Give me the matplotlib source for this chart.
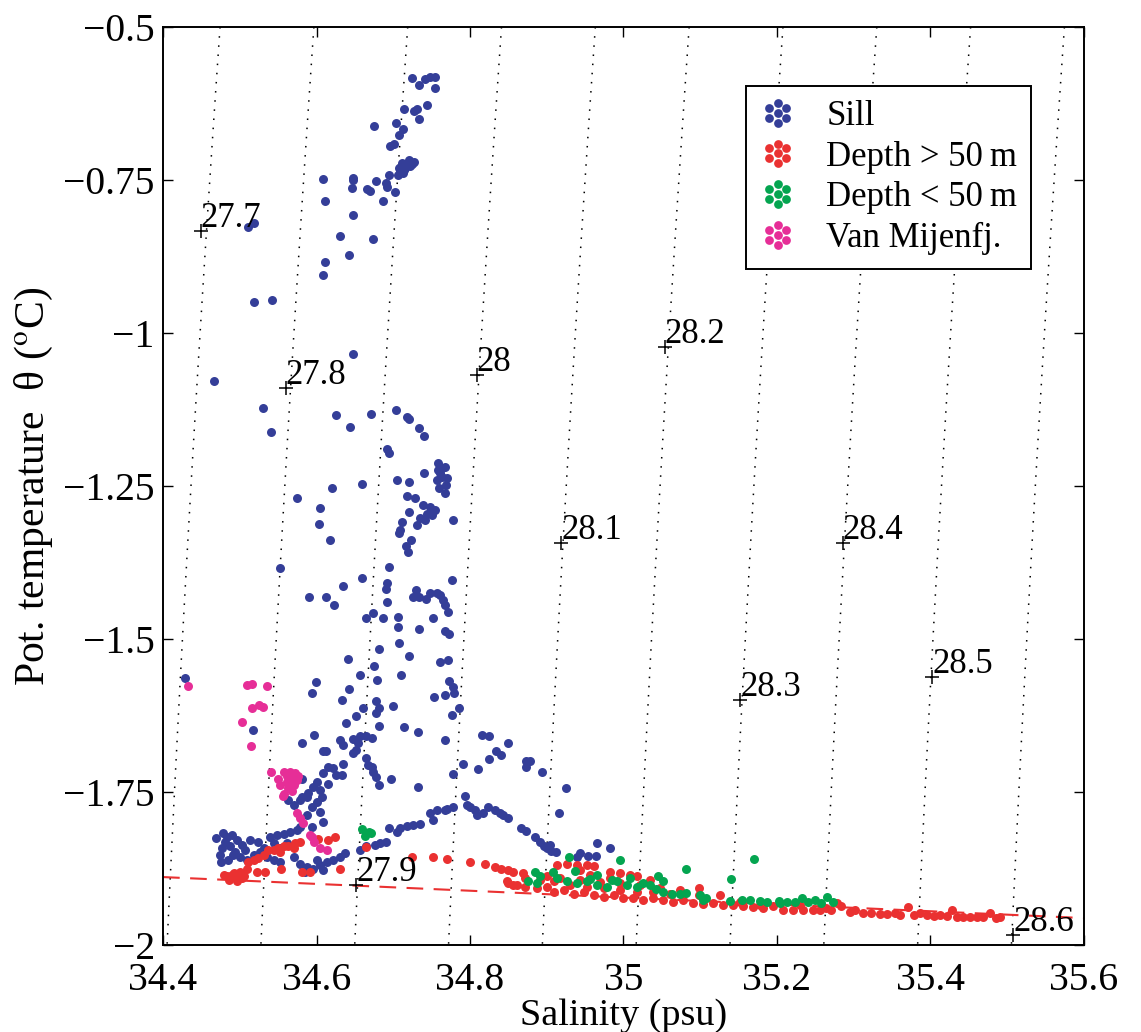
import numpy as np
import matplotlib
matplotlib.use("Agg")
import matplotlib.pyplot as plt
from matplotlib.lines import Line2D
from matplotlib.collections import PathCollection
from matplotlib.legend_handler import HandlerBase
from matplotlib.ticker import FuncFormatter

plt.rcParams['font.family'] = ['Liberation Serif', 'DejaVu Serif']
plt.rcParams['mathtext.fontset'] = 'stix'

# ---- data (salinity psu, pot. temperature degC) ----
sill = [
    (34.725, -0.584), (34.733, -0.595), (34.741, -0.585), (34.748, -0.582), (34.754, -0.581),
    (34.755, -0.600), (34.714, -0.634), (34.727, -0.637), (34.731, -0.634), (34.744, -0.627),
    (34.734, -0.651), (34.675, -0.661), (34.703, -0.657), (34.713, -0.667), (34.708, -0.677),
    (34.696, -0.694), (34.701, -0.691), (34.711, -0.722), (34.719, -0.722), (34.724, -0.724),
    (34.715, -0.730), (34.709, -0.735), (34.706, -0.742), (34.714, -0.734), (34.722, -0.727),
    (34.717, -0.725), (34.713, -0.739), (34.708, -0.730), (34.721, -0.717), (34.727, -0.721),
    (34.694, -0.741), (34.608, -0.749), (34.647, -0.746), (34.648, -0.750), (34.646, -0.763),
    (34.666, -0.764), (34.670, -0.768), (34.678, -0.751), (34.691, -0.755), (34.692, -0.761),
    (34.702, -0.770), (34.686, -0.785), (34.611, -0.785), (34.648, -0.807), (34.511, -0.826),
    (34.519, -0.821), (34.630, -0.841), (34.673, -0.847), (34.642, -0.873), (34.611, -0.884),
    (34.609, -0.905), (34.519, -0.950), (34.542, -0.946), (34.647, -1.035), (34.466, -1.079),
    (34.530, -1.123), (34.541, -1.161), (34.626, -1.134), (34.671, -1.132), (34.644, -1.154),
    (34.704, -1.126), (34.718, -1.138), (34.721, -1.140), (34.733, -1.155), (34.740, -1.169),
    (34.692, -1.190), (34.695, -1.196), (34.705, -1.240), (34.721, -1.244), (34.740, -1.229),
    (34.758, -1.212), (34.767, -1.219), (34.761, -1.229), (34.757, -1.240), (34.769, -1.248),
    (34.760, -1.254), (34.767, -1.262), (34.763, -1.235), (34.764, -1.221), (34.770, -1.237),
    (34.758, -1.224), (34.659, -1.246), (34.620, -1.254), (34.575, -1.269), (34.604, -1.286),
    (34.603, -1.312), (34.618, -1.338), (34.718, -1.266), (34.728, -1.270), (34.739, -1.281),
    (34.748, -1.284), (34.754, -1.289), (34.744, -1.295), (34.735, -1.303), (34.731, -1.314),
    (34.741, -1.306), (34.750, -1.297), (34.721, -1.293), (34.712, -1.309), (34.709, -1.322),
    (34.707, -1.326), (34.778, -1.306), (34.723, -1.338), (34.717, -1.348), (34.719, -1.357),
    (34.695, -1.382), (34.552, -1.384), (34.659, -1.401), (34.777, -1.404), (34.692, -1.409),
    (34.691, -1.419), (34.635, -1.413), (34.590, -1.431), (34.612, -1.431), (34.623, -1.445),
    (34.730, -1.420), (34.726, -1.432), (34.733, -1.432), (34.742, -1.434), (34.748, -1.425),
    (34.757, -1.424), (34.761, -1.428), (34.765, -1.436), (34.767, -1.444), (34.692, -1.440),
    (34.673, -1.457), (34.664, -1.466), (34.686, -1.466), (34.706, -1.464), (34.706, -1.480),
    (34.733, -1.484), (34.752, -1.465), (34.771, -1.456), (34.767, -1.487), (34.773, -1.491),
    (34.708, -1.506), (34.681, -1.516), (34.721, -1.528), (34.641, -1.533), (34.675, -1.544),
    (34.761, -1.538), (34.771, -1.534), (34.656, -1.559), (34.710, -1.559), (34.679, -1.567),
    (34.429, -1.564), (34.599, -1.571), (34.594, -1.588), (34.642, -1.581), (34.773, -1.569),
    (34.778, -1.579), (34.779, -1.589), (34.633, -1.599), (34.767, -1.592), (34.753, -1.595),
    (34.677, -1.601), (34.681, -1.613), (34.677, -1.621), (34.661, -1.612), (34.699, -1.610),
    (34.785, -1.612), (34.651, -1.625), (34.776, -1.624), (34.638, -1.638), (34.681, -1.642),
    (34.714, -1.644), (34.732, -1.652), (34.517, -1.648), (34.597, -1.657), (34.657, -1.658),
    (34.665, -1.659), (34.672, -1.661), (34.647, -1.664), (34.654, -1.670), (34.652, -1.681),
    (34.647, -1.686), (34.631, -1.665), (34.635, -1.674), (34.768, -1.665), (34.581, -1.670),
    (34.608, -1.683), (34.612, -1.683), (34.665, -1.695), (34.667, -1.706), (34.672, -1.709),
    (34.674, -1.718), (34.678, -1.726), (34.682, -1.739), (34.697, -1.729), (34.732, -1.741),
    (34.791, -1.704), (34.778, -1.721), (34.810, -1.713), (34.794, -1.757), (34.634, -1.704),
    (34.615, -1.709), (34.622, -1.711), (34.609, -1.719), (34.626, -1.722), (34.633, -1.722),
    (34.600, -1.733), (34.615, -1.737), (34.596, -1.741), (34.605, -1.747), (34.589, -1.752),
    (34.581, -1.758), (34.607, -1.758), (34.581, -1.729),
    (34.483, -1.823), (34.490, -1.820), (34.496, -1.828), (34.481, -1.831), (34.487, -1.839),
    (34.494, -1.848), (34.503, -1.837), (34.500, -1.856), (34.485, -1.861), (34.476, -1.864),
    (34.509, -1.861), (34.518, -1.853), (34.526, -1.848), (34.539, -1.823), (34.548, -1.820),
    (34.557, -1.818), (34.565, -1.815), (34.574, -1.812), (34.544, -1.834), (34.552, -1.842),
    (34.561, -1.834), (34.535, -1.856), (34.544, -1.861), (34.552, -1.864), (34.570, -1.856),
    (34.579, -1.867), (34.587, -1.872), (34.596, -1.875), (34.605, -1.869), (34.613, -1.864),
    (34.622, -1.861), (34.631, -1.856), (34.637, -1.850), (34.600, -1.861), (34.609, -1.877),
    (34.585, -1.880), (34.563, -1.763), (34.570, -1.771), (34.579, -1.763), (34.587, -1.758),
    (34.594, -1.774), (34.600, -1.766), (34.605, -1.782), (34.609, -1.799), (34.587, -1.788),
    (34.594, -1.807), (34.579, -1.807), (34.478, -1.817), (34.477, -1.842), (34.491, -1.853),
    (34.507, -1.845), (34.513, -1.828), (34.524, -1.832), (34.532, -1.842), (34.474, -1.853),
    (34.469, -1.825),
    (34.657, -1.845), (34.665, -1.839), (34.676, -1.837), (34.683, -1.834), (34.691, -1.831),
    (34.694, -1.808), (34.705, -1.815), (34.709, -1.809), (34.718, -1.806), (34.726, -1.804),
    (34.735, -1.802), (34.748, -1.785), (34.752, -1.796), (34.757, -1.779), (34.767, -1.779),
    (34.770, -1.777), (34.778, -1.774), (34.796, -1.771), (34.800, -1.774), (34.807, -1.779),
    (34.809, -1.787), (34.817, -1.784), (34.824, -1.774), (34.833, -1.779), (34.839, -1.785),
    (34.843, -1.787), (34.849, -1.792), (34.867, -1.808), (34.873, -1.814), (34.885, -1.823),
    (34.891, -1.831), (34.896, -1.839), (34.900, -1.842), (34.906, -1.846), (34.912, -1.848),
    (34.904, -1.837), (34.816, -1.657), (34.825, -1.658), (34.834, -1.683), (34.841, -1.690),
    (34.849, -1.670), (34.825, -1.696), (34.873, -1.699), (34.878, -1.700), (34.873, -1.709),
    (34.894, -1.717), (34.925, -1.743), (34.916, -1.784), (34.965, -1.834), (34.982, -1.842),
    (34.943, -1.850), (34.939, -1.857), (34.954, -1.854), (34.964, -1.854),
]

deep = [
    (34.483, -1.887), (34.490, -1.885), (34.496, -1.889), (34.503, -1.891), (34.492, -1.882),
    (34.500, -1.880), (34.509, -1.875), (34.511, -1.864), (34.518, -1.861), (34.524, -1.858),
    (34.531, -1.853), (34.537, -1.845), (34.544, -1.844), (34.550, -1.842), (34.557, -1.839),
    (34.563, -1.839), (34.570, -1.842), (34.572, -1.834), (34.579, -1.831), (34.552, -1.848),
    (34.522, -1.880), (34.533, -1.880), (34.554, -1.875), (34.581, -1.880), (34.592, -1.880),
    (34.602, -1.827), (34.615, -1.828), (34.624, -1.823), (34.631, -1.876), (34.665, -1.840),
    (34.724, -1.856), (34.752, -1.857), (34.770, -1.860), (34.800, -1.864), (34.486, -1.894),
    (34.479, -1.886), (34.497, -1.896), (34.506, -1.887), (34.820, -1.867), (34.833, -1.872),
    (34.841, -1.876), (34.850, -1.878), (34.856, -1.880), (34.869, -1.882), (34.913, -1.869),
    (34.926, -1.867), (34.939, -1.869), (34.952, -1.870), (34.961, -1.871), (34.982, -1.880),
    (34.995, -1.882), (35.008, -1.885), (35.017, -1.888),
    (34.850, -1.898), (34.861, -1.902), (34.872, -1.905), (34.887, -1.907), (34.900, -1.905),
    (34.909, -1.913), (34.922, -1.910), (34.935, -1.916), (34.948, -1.913), (34.961, -1.918),
    (34.974, -1.921), (34.987, -1.918), (35.000, -1.924), (35.013, -1.924), (35.026, -1.926),
    (35.039, -1.924), (35.052, -1.926), (35.065, -1.929), (35.078, -1.926), (35.091, -1.932),
    (35.104, -1.933), (35.117, -1.932), (35.130, -1.935), (35.143, -1.935), (35.156, -1.937),
    (35.169, -1.938), (35.182, -1.940), (35.195, -1.937), (35.208, -1.942),
    (34.900, -1.888), (34.909, -1.896), (34.930, -1.902), (34.952, -1.905), (34.974, -1.907),
    (34.995, -1.910), (35.017, -1.913), (35.039, -1.913), (35.061, -1.916), (34.917, -1.891),
    (34.943, -1.894), (34.969, -1.897), (34.995, -1.898), (35.021, -1.902), (35.047, -1.907),
    (35.073, -1.910), (35.099, -1.918), (34.891, -1.894), (34.872, -1.891), (34.956, -1.886),
    (34.982, -1.891), (34.943, -1.878), (35.035, -1.894), (35.099, -1.907), (35.126, -1.918),
    (35.152, -1.929), (35.178, -1.934), (34.848, -1.896), (34.856, -1.902),
    (35.221, -1.943), (35.230, -1.935), (35.234, -1.943), (35.247, -1.943), (35.256, -1.943),
    (35.264, -1.940), (35.270, -1.943), (35.278, -1.932), (35.284, -1.937), (35.295, -1.946),
    (35.302, -1.943), (35.312, -1.947), (35.323, -1.948), (35.334, -1.949), (35.343, -1.949),
    (35.354, -1.948), (35.360, -1.951), (35.371, -1.938), (35.378, -1.951), (35.386, -1.948),
    (35.395, -1.951), (35.404, -1.953), (35.412, -1.951), (35.421, -1.953), (35.428, -1.943),
    (35.434, -1.954), (35.443, -1.954), (35.451, -1.955), (35.460, -1.955), (35.469, -1.954),
    (35.477, -1.948), (35.486, -1.956), (35.491, -1.955),
]

shallow = [
    (34.659, -1.811), (34.668, -1.815), (34.663, -1.822), (34.671, -1.817), (34.929, -1.856),
    (34.995, -1.861), (35.082, -1.876), (35.170, -1.859), (35.140, -1.892), (34.885, -1.880),
    (34.908, -1.880), (34.937, -1.879), (34.965, -1.886), (35.045, -1.887), (35.051, -1.896),
    (34.876, -1.896), (34.887, -1.898), (34.913, -1.890), (34.926, -1.896), (34.939, -1.899),
    (34.952, -1.896), (34.965, -1.902), (34.978, -1.905), (34.991, -1.896), (35.004, -1.902),
    (35.017, -1.905), (35.026, -1.899), (35.035, -1.902), (35.043, -1.908), (35.052, -1.913),
    (35.063, -1.916), (35.074, -1.916), (35.082, -1.915), (35.100, -1.918), (35.104, -1.926),
    (35.108, -1.924), (35.139, -1.928), (35.154, -1.926), (35.165, -1.926), (35.178, -1.928),
    (35.187, -1.929), (35.202, -1.928), (35.213, -1.929), (35.204, -1.932), (35.223, -1.929),
    (35.232, -1.924), (35.241, -1.929), (35.250, -1.926), (35.258, -1.932), (35.265, -1.921),
    (35.273, -1.929), (34.891, -1.887), (34.956, -1.892), (34.985, -1.894), (35.008, -1.891),
]

van_mijen = [
    (34.432, -1.577), (34.510, -1.575), (34.516, -1.573), (34.535, -1.577), (34.516, -1.613),
    (34.525, -1.608), (34.530, -1.611), (34.503, -1.636), (34.514, -1.675), (34.541, -1.717),
    (34.557, -1.718), (34.565, -1.717), (34.572, -1.719), (34.568, -1.728), (34.574, -1.730),
    (34.561, -1.733), (34.570, -1.739), (34.550, -1.729), (34.563, -1.744), (34.556, -1.757),
    (34.558, -1.753), (34.568, -1.748), (34.574, -1.785), (34.579, -1.793), (34.582, -1.801),
    (34.594, -1.823), (34.597, -1.831), (34.605, -1.842), (34.613, -1.844), (34.592, -1.820),
    (34.562, -1.724), (34.576, -1.724), (34.552, -1.739),
]

# surface freezing line (end points)
freeze_S = [34.4, 35.6]
freeze_T = [-1.889, -1.956]

# isopycnal levels and where their '+' labels sit
iso_levels = [27.7, 27.8, 27.9, 28.0, 28.1, 28.2, 28.3, 28.4, 28.5, 28.6]
label_text = ['27.7', '27.8', '27.9', '28', '28.1', '28.2', '28.3', '28.4', '28.5', '28.6']
label_S = [34.449, 34.560, 34.652, 34.809, 34.919, 35.054, 35.152, 35.286, 35.402, 35.508]
label_T = [-0.833, -1.090, -1.902, -1.069, -1.343, -1.023, -1.600, -1.343, -1.562, -1.984]

# simplified EOS fitted to the plotted isopycnals (sigma at S0, T0)
sigma0, S0, T0 = 28.0, 34.772, -2.0
beta, alpha, alpha2 = 0.818, 0.0303, 0.0049

xticks = [34.4, 34.6, 34.8, 35.0, 35.2, 35.4, 35.6]
yticks = [-0.5, -0.75, -1.0, -1.25, -1.5, -1.75, -2.0]

c_sill = '#343e98'
c_deep = '#ea3131'
c_shallow = '#04a550'
c_van = '#e62e97'


class DotCluster(HandlerBase):
    # MATLAB-style scatter legend: a little clump of dots
    offsets = [(0, 0), (-6.2, 3.6), (0, 7.0), (6.2, 3.6), (6.2, -3.6), (0, -7.0), (-6.2, -3.6)]

    def create_artists(self, legend, orig_handle, xdescent, ydescent, width, height, fontsize, trans):
        color = orig_handle.get_facecolor()[0]
        cx = 0.5 * width - xdescent
        cy = 0.5 * height - ydescent
        arts = []
        for dx, dy in self.offsets:
            m = Line2D([cx + dx], [cy + dy], ls='', marker='o', ms=6.3, mfc=color, mec='none')
            m.set_transform(trans)
            arts.append(m)
        return arts


fig = plt.figure(figsize=(11.41, 10.32), dpi=100)
ax = fig.add_axes([0.1429, 0.0843, 0.8071, 0.8895])

# isopycnals
S_grid, T_grid = np.meshgrid(np.linspace(34.4, 35.6, 200), np.linspace(-2.0, -0.5, 200))
sig = sigma0 + beta * (S_grid - S0) - alpha * (T_grid - T0) - alpha2 * (T_grid - T0) ** 2
cs = ax.contour(S_grid, T_grid, sig, levels=iso_levels, colors='k', linewidths=1.1)
cs.set_linestyle((0, (1, 5)))

ax.plot(label_S, label_T, 'k+', ms=10, mew=1.1, zorder=5)
for s, t, txt in zip(label_S, label_T, label_text):
    ax.annotate(txt, (s, t), xytext=(0, 3), textcoords='offset points',
                ha='left', va='baseline', fontsize=25, zorder=6)

ax.plot(freeze_S, freeze_T, color=c_deep, lw=1.5, dashes=(8, 5), zorder=2)

h1 = ax.scatter(*zip(*sill), s=42, c=c_sill, linewidths=0, zorder=3, label='Sill')
h2 = ax.scatter(*zip(*deep), s=42, c=c_deep, linewidths=0, zorder=3, label='Depth > 50\u2009m')
h3 = ax.scatter(*zip(*shallow), s=42, c=c_shallow, linewidths=0, zorder=3, label='Depth < 50\u2009m')
h4 = ax.scatter(*zip(*van_mijen), s=42, c=c_van, linewidths=0, zorder=3, label='Van Mijenfj.')

ax.set_xlim(34.4, 35.6)
ax.set_ylim(-2.0, -0.5)
ax.set_xticks(xticks)
ax.set_yticks(yticks)
fmt = FuncFormatter(lambda v, p: ('%g' % v).replace('-', '\u2212'))
ax.xaxis.set_major_formatter(fmt)
ax.yaxis.set_major_formatter(fmt)
ax.tick_params(direction='in', length=7, width=1, labelsize=28.5, top=True, right=True, pad=6)
ax.tick_params(axis='x', pad=12)
for sp in ax.spines.values():
    sp.set_linewidth(1.4)

ax.set_xlabel('Salinity (psu)', fontsize=27.5, labelpad=0)
ax.set_ylabel('Pot. temperature  \u03b8 ($^{\\mathrm{o}}$C)', fontsize=30, labelpad=6)

leg = ax.legend(handles=[h1, h2, h3, h4], loc='upper right', bbox_to_anchor=(0.9425, 0.9357),
                borderaxespad=0, fontsize=25, frameon=True, fancybox=False, framealpha=1,
                edgecolor='k', handlelength=1.0, handletextpad=0.9, labelspacing=0.22,
                borderpad=0.4, handler_map={PathCollection: DotCluster()})
leg.get_frame().set_linewidth(1.4)

plt.savefig('out.png', dpi=100)
